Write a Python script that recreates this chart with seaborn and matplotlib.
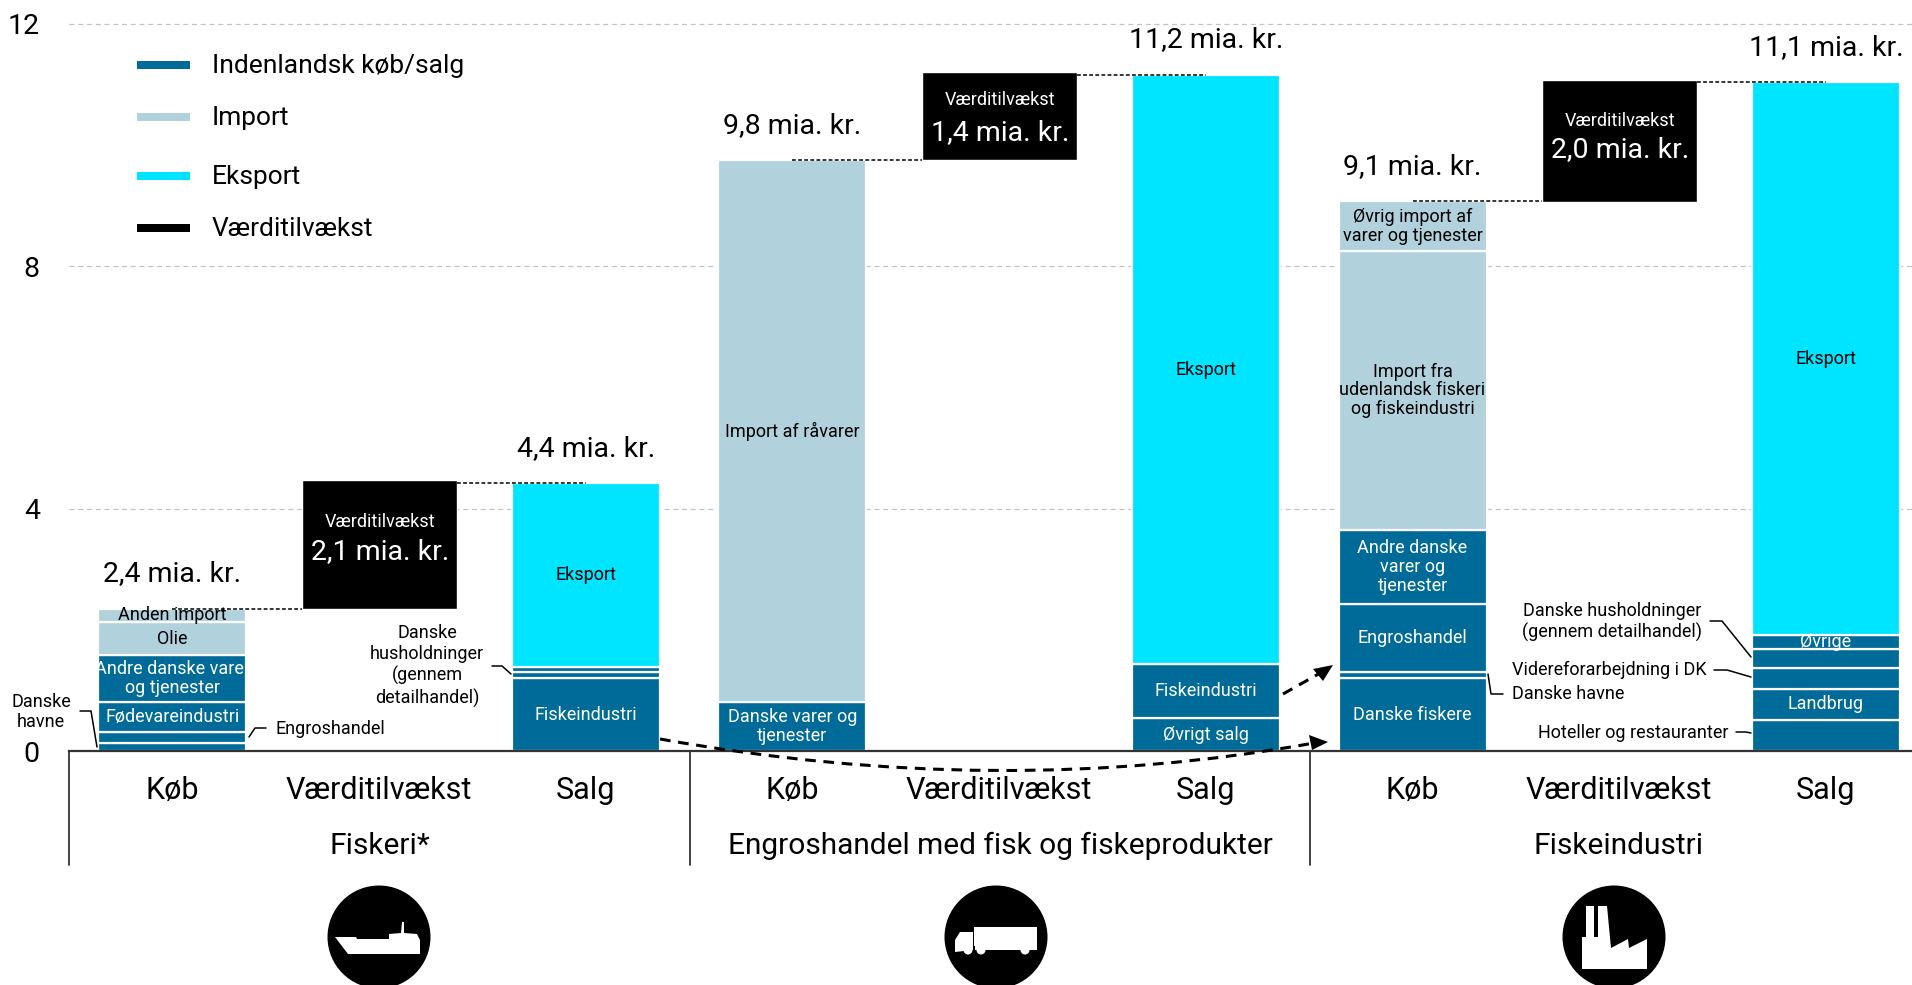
# Fiskerikaede: koeb, vaerditilvaekst og salg (mia. kr.)
import matplotlib
matplotlib.use("Agg")
import matplotlib.pyplot as plt
from matplotlib.patches import Circle, Polygon, PathPatch, Rectangle
from matplotlib.path import Path
import seaborn as sns
import pandas as pd

DARK, LIGHT, CYAN, BLACK = "#006b99", "#b1d1dd", "#00e5ff", "#000000"

bars = ["Fiskeri Køb", "Fiskeri VT", "Fiskeri Salg",
        "Engros Køb", "Engros VT", "Engros Salg",
        "Industri Køb", "Industri VT", "Industri Salg"]
tick_labels = ["Køb", "Værditilvækst", "Salg"] * 3
group_labels = ["Fiskeri*", "Engroshandel med fisk og fiskeprodukter", "Fiskeindustri"]
y_ticks = [0, 4, 8, 12]

# stablede segmenter nedefra og op
fiskeri_koeb = [0.14, 0.18, 0.49, 0.77, 0.55, 0.22]
fiskeri_koeb_type = ["d", "d", "d", "d", "l", "l"]
fiskeri_koeb_txt = ["", "", "Fødevareindustri", "Andre danske varer\nog tjenester", "Olie", "Anden import"]

fiskeri_salg = [1.20, 0.10, 0.08, 3.04]
fiskeri_salg_type = ["d", "d", "d", "c"]
fiskeri_salg_txt = ["Fiskeindustri", "", "", "Eksport"]

engros_koeb = [0.81, 8.94]
engros_koeb_type = ["d", "l"]
engros_koeb_txt = ["Danske varer og\ntjenester", "Import af råvarer"]

engros_salg = [0.54, 0.89, 9.73]
engros_salg_type = ["d", "d", "c"]
engros_salg_txt = ["Øvrigt salg", "Fiskeindustri", "Eksport"]

industri_koeb = [1.20, 0.11, 1.11, 1.23, 4.60, 0.82]
industri_koeb_type = ["d", "d", "d", "d", "l", "l"]
industri_koeb_txt = ["Danske fiskere", "", "Engroshandel", "Andre danske\nvarer og\ntjenester",
                     "Import fra\nudenlandsk fiskeri\nog fiskeindustri", "Øvrig import af\nvarer og tjenester"]

industri_salg = [0.51, 0.52, 0.34, 0.31, 0.23, 9.13]
industri_salg_type = ["d", "d", "d", "d", "d", "c"]
industri_salg_txt = ["", "Landbrug", "", "", "Øvrige", "Eksport"]

vaerdi_bund = [2.35, 9.75, 9.06]
vaerdi_hoejde = [2.13, 1.45, 2.01]
vaerdi_txt = ["2,1 mia. kr.", "1,4 mia. kr.", "2,0 mia. kr."]
total_txt = ["2,4 mia. kr.", "4,4 mia. kr.", "9,8 mia. kr.", "11,2 mia. kr.", "9,1 mia. kr.", "11,1 mia. kr."]

legend_names = ["Indenlandsk køb/salg", "Import", "Eksport", "Værditilvækst"]
legend_cols = [DARK, LIGHT, CYAN, BLACK]

sns.set_theme(style="white")
plt.rcParams["font.family"] = ["Roboto", "DejaVu Sans"]

W, H = 1912, 985
ZERO_PX, UNIT_PX = 751, 60.6
SMALL, VAL, TICK, GROUP = 13, 20.5, 22, 21.5
fig = plt.figure(figsize=(W / 100, H / 100), dpi=100)
ax = fig.add_axes([69 / W, (H - ZERO_PX) / H, (W - 69) / W, ZERO_PX / H])

colmap = {"d": DARK, "l": LIGHT, "c": CYAN}
stacks = [("Fiskeri Køb", fiskeri_koeb, fiskeri_koeb_type, fiskeri_koeb_txt),
          ("Fiskeri Salg", fiskeri_salg, fiskeri_salg_type, fiskeri_salg_txt),
          ("Engros Køb", engros_koeb, engros_koeb_type, engros_koeb_txt),
          ("Engros Salg", engros_salg, engros_salg_type, engros_salg_txt),
          ("Industri Køb", industri_koeb, industri_koeb_type, industri_koeb_txt),
          ("Industri Salg", industri_salg, industri_salg_type, industri_salg_txt)]

tops = {}
for name, vals, types, txts in stacks:
    bottom = 0
    for v, t, s in zip(vals, types, txts):
        df = pd.DataFrame({"bar": [name], "value": [v]})
        sns.barplot(data=df, x="bar", y="value", order=bars, color=colmap[t], saturation=1,
                    width=0.716, bottom=bottom, edgecolor="white", linewidth=1.6,
                    errorbar=None, ax=ax, zorder=2)
        if s:
            ax.text(bars.index(name), bottom + v / 2, s, ha="center", va="center", fontsize=SMALL,
                    linespacing=1.05, color="white" if t == "d" else "black", zorder=4)
        bottom += v
    tops[name] = bottom

vt_names = ["Fiskeri VT", "Engros VT", "Industri VT"]
for name, b, h in zip(vt_names, vaerdi_bund, vaerdi_hoejde):
    df = pd.DataFrame({"bar": [name], "value": [h]})
    sns.barplot(data=df, x="bar", y="value", order=bars, color=BLACK, saturation=1,
                width=0.75, bottom=b, errorbar=None, ax=ax, zorder=2)

# stiplede linjer fra soejletop til vaerditilvaekst-boks
for name in vt_names:
    k = bars.index(name)
    ax.plot([k - 1, k - 0.375], [tops[bars[k - 1]], tops[bars[k - 1]]], color="black",
            lw=1.1, ls=(0, (2.5, 1.5)), zorder=3)
    ax.plot([k + 0.375, k + 1], [tops[bars[k + 1]], tops[bars[k + 1]]], color="black",
            lw=1.1, ls=(0, (2.5, 1.5)), zorder=3)

for txt, (name, *_rest) in zip(total_txt, stacks):
    ax.annotate(txt, (bars.index(name), tops[name]), xytext=(0, 25), textcoords="offset points",
                ha="center", va="center", fontsize=VAL, color="black")

ax.set_xlim(-0.5, -0.5 + (W - 69) / 206.7)
ax.set_ylim(0, ZERO_PX / UNIT_PX)
ax.set_yticks(y_ticks)
ax.set_xticks(range(9), labels=tick_labels)
ax.tick_params(axis="x", length=0, pad=18, labelsize=TICK, labelcolor="black")
ax.tick_params(axis="y", length=0, pad=21, labelsize=VAL, labelcolor="black")
ax.set_xlabel("")
ax.set_ylabel("")
ax.grid(axis="y", color="#c4c4c4", ls=(0, (4, 3)), lw=0.9)
ax.set_axisbelow(True)
sns.despine(ax=ax, left=True)
ax.spines["bottom"].set_color("#333333")
ax.spines["bottom"].set_linewidth(1.6)

# overlag i pixelkoordinater til pile, ledere, ikoner og forklaring
ov = fig.add_axes([0, 0, 1, 1], facecolor="none")
ov.set_xlim(0, W)
ov.set_ylim(H, 0)
ov.axis("off")

for x in [69, 690, 1310]:
    ov.plot([x, x], [ZERO_PX, 865], color="#333333", lw=1.3)
for x, s in zip([380, 1000, 1619], group_labels):
    ov.text(x, 846, s, ha="center", va="center", fontsize=GROUP, color="black")

# tekst i vaerditilvaekst-boksene
for x, y1, y2, s in zip([380, 1000, 1620], [522, 100, 121], [552, 133, 150], vaerdi_txt):
    ov.text(x, y1, "Værditilvækst", ha="center", va="center", fontsize=SMALL, color="white")
    ov.text(x, y2, s, ha="center", va="center", fontsize=VAL, color="white")

# forklaring
for y, c, s in zip([65, 117, 176, 228], legend_cols, legend_names):
    ov.add_patch(Rectangle((137, y - 4), 53, 8, color=c, lw=0))
    ov.text(212, y + 1, s, ha="left", va="center", fontsize=19, color="black")

# ledere
leaders = [[(80, 711), (91, 711), (97, 747)],
           [(266, 728), (255, 728), (249, 737)],
           [(492, 666), (502, 666), (511, 674)],
           [(1488, 674), (1491, 694), (1503, 694)],
           [(1710, 621), (1722, 621), (1751, 657)],
           [(1714, 670), (1727, 670), (1751, 677)],
           [(1736, 732), (1746, 732), (1751, 733)]]
for pts in leaders:
    ov.plot([p[0] for p in pts], [p[1] for p in pts], color="black", lw=1.1)

notes = [(41, 712, "Danske\nhavne", "center"), (276, 729, "Engroshandel", "left"),
         (427, 666, "Danske\nhusholdninger\n(gennem\ndetailhandel)", "center"),
         (1512, 694, "Danske havne", "left"),
         (1702, 622, "Danske husholdninger\n(gennem detailhandel)", "right"),
         (1707, 670, "Videreforarbejdning i DK", "right"),
         (1729, 733, "Hoteller og restauranter", "right")]
for x, y, s, ha in notes:
    ov.text(x, y, s, ha=ha, va="center", multialignment="center", fontsize=SMALL, color="black",
            linespacing=1.2)

# stiplede pile mellem led
ov.plot([1283, 1322], [694, 672], color="black", lw=2.2, ls=(0, (3.5, 2.5)))
ov.add_patch(Polygon([(1333, 665), (1313, 669), (1323, 681)], color="black", lw=0))
curve = Path([(660, 739), (1000, 800), (1314, 743)], [Path.MOVETO, Path.CURVE3, Path.CURVE3])
ov.add_patch(PathPatch(curve, fc="none", ec="black", lw=2.2, ls=(0, (3.5, 2.5))))
ov.add_patch(Polygon([(1328, 742), (1309, 735), (1312, 750)], color="black", lw=0))

# ikoner
for x in [379, 996, 1614]:
    ov.add_patch(Circle((x, 937), 51.5, color="black", lw=0))
ship = [(335, 937), (356, 937), (357, 939), (389, 939), (389, 934), (401, 933), (402, 922), (404, 922),
        (404, 933), (417, 934), (420, 940), (420, 954), (348, 954)]
ov.add_patch(Polygon(ship, color="white", lw=0))
ov.add_patch(Rectangle((974, 927), 63, 19, color="white", lw=0))
ov.add_patch(Rectangle((975, 946), 62, 4, color="white", lw=0))
ov.add_patch(Polygon([(955, 940), (960, 932), (973, 932), (973, 950), (955, 952)], color="white", lw=0))
for x in [968, 981, 1025]:
    ov.add_patch(Circle((x, 950), 4.5, color="white", lw=0))
factory = [(1582, 937), (1586, 937), (1586, 906), (1594, 906), (1594, 937), (1598, 937), (1598, 906),
           (1607, 906), (1611, 948), (1628, 939), (1629, 948), (1647, 939), (1647, 969), (1582, 969)]
ov.add_patch(Polygon(factory, color="white", lw=0))

fig.savefig("out.png", dpi=100)
